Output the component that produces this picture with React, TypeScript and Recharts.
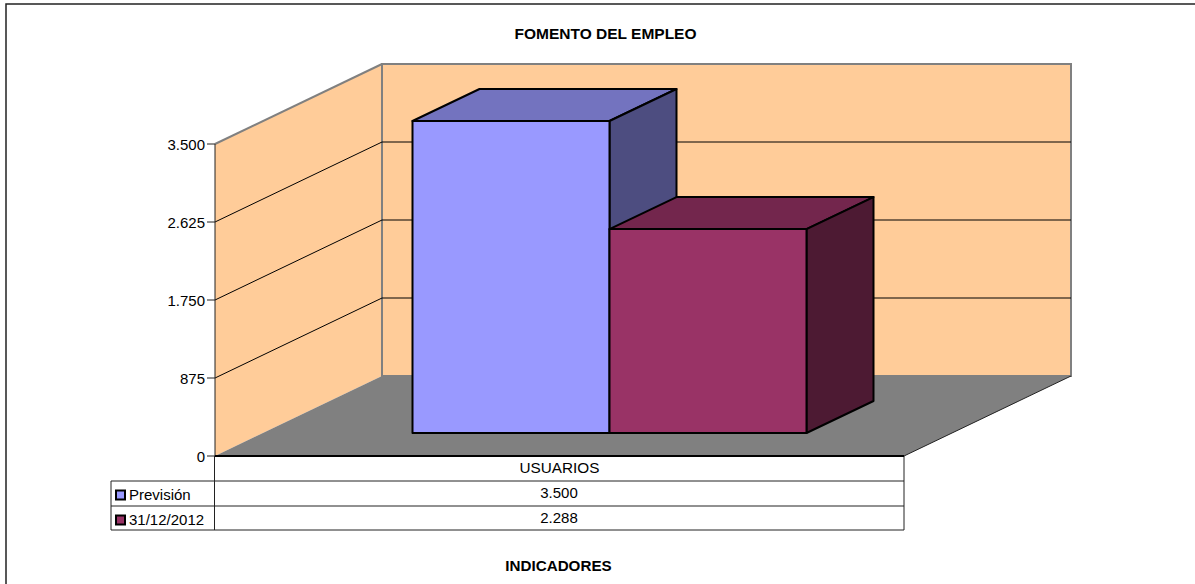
import * as React from "react"
import { Bar, BarChart, XAxis, YAxis, Customized, usePlotArea } from "recharts"

const categories = ["USUARIOS"]
const prevision = [3500]
const real = [2288]
const yTicks = [0, 875, 1750, 2625, 3500]
const seriesNames = ["Previsión", "31/12/2012"]

const chartData = categories.map((name, i) => ({ name, prevision: prevision[i], real: real[i] }))

const FONT = "'Liberation Sans', Arial, sans-serif"
const WIDTH = 1195
const HEIGHT = 584
const DEPTH_X = 167
const DEPTH_Y = 80
const BAR_SHIFT_X = 49.5
const BAR_SHIFT_Y = 23
const BAR_DEPTH_X = 67
const BAR_DEPTH_Y = 32
const MAX_Y = 3500

const fmt = (v: number) => v.toLocaleString("de-DE")

const colors = {
  wall: "#FFCC99",
  floor: "#808080",
  prevision: { front: "#9999FF", top: "#7373BF", side: "#4D4D80" },
  real: { front: "#993366", top: "#73264D", side: "#4D1A33" },
}

// peach walls, grey floor and the gridlines running round them
function Walls() {
  const plot = usePlotArea()
  if (!plot) return null
  const left = plot.x
  const right = plot.x + plot.width
  const top = plot.y
  const bottom = plot.y + plot.height
  const backLeft = left + DEPTH_X
  const backRight = right + DEPTH_X
  return (
    <g>
      <polygon points={`${left},${top} ${backLeft},${top - DEPTH_Y} ${backLeft},${bottom - DEPTH_Y} ${left},${bottom}`} fill={colors.wall} />
      <rect x={backLeft} y={top - DEPTH_Y} width={plot.width} height={plot.height} fill={colors.wall} stroke={colors.floor} strokeWidth={2} />
      <polygon points={`${left},${bottom} ${backLeft},${bottom - DEPTH_Y} ${backRight},${bottom - DEPTH_Y} ${right},${bottom}`} fill={colors.floor} />
      <line x1={right} y1={bottom} x2={backRight} y2={bottom - DEPTH_Y} stroke="#222" strokeWidth={1} />
      <line x1={left} y1={top} x2={backLeft} y2={top - DEPTH_Y} stroke={colors.floor} strokeWidth={2} />
      {yTicks.slice(1, -1).map((t) => {
        const y = bottom - (plot.height * t) / MAX_Y
        return (
          <polyline key={t} points={`${left},${y} ${backLeft},${y - DEPTH_Y} ${backRight},${y - DEPTH_Y}`} fill="none" stroke="#000" strokeWidth={1} />
        )
      })}
      <line x1={left} y1={top} x2={left} y2={bottom} stroke="#222" strokeWidth={1} />
    </g>
  )
}

function Box3D(props: any) {
  const { x, y, width, height, palette } = props
  const fx = x + BAR_SHIFT_X
  const fy = y - BAR_SHIFT_Y
  const fr = fx + width
  const fb = fy + height
  const dx = BAR_DEPTH_X
  const dy = BAR_DEPTH_Y
  const line = { stroke: "#000", strokeWidth: 2, strokeLinejoin: "round" as const }
  return (
    <g>
      <polygon points={`${fx},${fy} ${fx + dx},${fy - dy} ${fr + dx},${fy - dy} ${fr},${fy}`} fill={palette.top} {...line} />
      <polygon points={`${fr},${fy} ${fr + dx},${fy - dy} ${fr + dx},${fb - dy} ${fr},${fb}`} fill={palette.side} {...line} />
      <rect x={fx} y={fy} width={width} height={height} fill={palette.front} {...line} />
    </g>
  )
}

// data table under the plot, plus the frame and the two titles
function DataTable() {
  const plot = usePlotArea()
  if (!plot) return null
  const left = plot.x
  const right = plot.x + plot.width
  const bottom = plot.y + plot.height
  const keyLeft = left - 104
  const rowA = bottom + 25
  const rowB = rowA + 25
  const rowC = rowB + 24
  const text = { fontFamily: FONT, fontSize: 15, fill: "#000" }
  const rows = [
    { name: seriesNames[0], value: prevision[0], y: rowA, palette: colors.prevision },
    { name: seriesNames[1], value: real[0], y: rowB, palette: colors.real },
  ]
  return (
    <g>
      <path d={`M6 584V4H1195`} fill="none" stroke="#222" strokeWidth={1.5} />
      <text x={605.5} y={39} textAnchor="middle" fontFamily={FONT} fontSize={15.5} fontWeight="bold">FOMENTO DEL EMPLEO</text>
      <text x={558.5} y={571} textAnchor="middle" fontFamily={FONT} fontSize={15.2} fontWeight="bold">INDICADORES</text>
      <g stroke="#222" strokeWidth={1} fill="none">
        <line x1={left - 0.5} y1={bottom} x2={left - 0.5} y2={rowC} />
        <line x1={right} y1={bottom} x2={right} y2={rowC} />
        <line x1={keyLeft} y1={rowA} x2={right} y2={rowA} />
        <line x1={keyLeft} y1={rowB} x2={right} y2={rowB} />
        <line x1={keyLeft} y1={rowC} x2={right} y2={rowC} />
        <line x1={keyLeft} y1={rowA} x2={keyLeft} y2={rowC} />
      </g>
      {rows.map((r) => (
        <g key={r.name}>
          <rect x={keyLeft + 5} y={r.y + 9.5} width={9} height={9} fill={r.palette.front} stroke="#000" strokeWidth={2} />
          <text x={keyLeft + 18} y={r.y + 19} {...text}>{r.name}</text>
          <text x={(left + right) / 2 - 0.5} y={r.y + 17} textAnchor="middle" {...text}>{fmt(r.value)}</text>
        </g>
      ))}
    </g>
  )
}

export default function App() {
  return (
    <div style={{ position: "absolute", left: 0, top: 0, width: WIDTH, height: HEIGHT, background: "#fff", overflow: "hidden" }}>
      <BarChart
        width={WIDTH}
        height={HEIGHT}
        data={chartData}
        margin={{ top: 144, right: 291, bottom: 102, left: 155 }}
        barGap={0}
        barSize={197}
      >
        <Customized component={<Walls />} />
        <XAxis
          dataKey="name"
          height={26}
          tickLine={false}
          axisLine={{ stroke: "#000", strokeWidth: 2 }}
          tick={{ fontFamily: FONT, fontSize: 15.3, fill: "#000" }}
          tickMargin={0}
        />
        <YAxis
          width={60}
          domain={[0, MAX_Y]}
          ticks={yTicks}
          interval={0}
          tickFormatter={fmt}
          axisLine={false}
          tickSize={8}
          tickLine={{ stroke: "#222" }}
          tick={{ fontFamily: FONT, fontSize: 15, fill: "#000", dy: 1 }}
        />
        <Bar dataKey="prevision" isAnimationActive={false} shape={(p: any) => <Box3D {...p} palette={colors.prevision} />} />
        <Bar dataKey="real" isAnimationActive={false} shape={(p: any) => <Box3D {...p} palette={colors.real} />} />
        <Customized component={<DataTable />} />
      </BarChart>
    </div>
  )
}
